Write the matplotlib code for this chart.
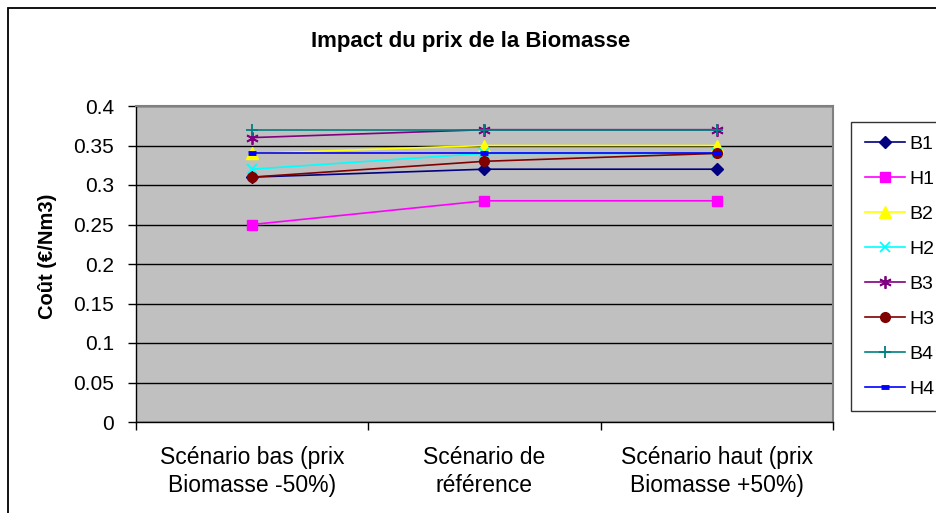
import matplotlib.pyplot as plt
from matplotlib.patches import Rectangle

plt.rcParams['font.family'] = ['Liberation Sans', 'DejaVu Sans']

categories = ["Scénario bas (prix\nBiomasse -50%)",
              "Scénario de\nréférence",
              "Scénario haut (prix\nBiomasse +50%)"]
series_names = ["B1", "H1", "B2", "H2", "B3", "H3", "B4", "H4"]
b1 = [0.31, 0.32, 0.32]
h1 = [0.25, 0.28, 0.28]
b2 = [0.34, 0.35, 0.35]
h2 = [0.32, 0.34, 0.34]
b3 = [0.36, 0.37, 0.37]
h3 = [0.31, 0.33, 0.34]
b4 = [0.37, 0.37, 0.37]
h4 = [0.34, 0.34, 0.34]
y_ticks = [0, 0.05, 0.1, 0.15, 0.2, 0.25, 0.3, 0.35, 0.4]

styles = {
    "B1": dict(color="#000080", marker="D", ms=6),
    "H1": dict(color="#FF00FF", marker="s", ms=7),
    "B2": dict(color="#FFFF00", marker="^", ms=8),
    "H2": dict(color="#00FFFF", marker="x", ms=7, mew=1.3),
    "B3": dict(color="#800080", marker=(6, 2, 0), ms=9, mew=1.3),
    "H3": dict(color="#800000", marker="o", ms=7),
    "B4": dict(color="#008080", marker="+", ms=9, mew=1.3),
    "H4": dict(color="#0000FF", marker="_", ms=6, mew=3.5),
}
values = [b1, h1, b2, h2, b3, h3, b4, h4]

fig = plt.figure(figsize=(9.37, 5.13), dpi=100)
# chart area border, cut by the right and bottom edges like the screenshot
fig.patches.append(Rectangle((8 / 937, -0.1), 1.2, 1.1 - 8 / 513, transform=fig.transFigure,
                             fill=False, edgecolor="black", lw=1.3, figure=fig))

ax = fig.add_axes([136 / 937, 1 - 422 / 513, (833 - 136) / 937, (422 - 106) / 513])
ax.set_facecolor("#C0C0C0")

x = list(range(len(categories)))
for name, vals in zip(series_names, values):
    ax.plot(x, vals, lw=1.2, label=name, **styles[name])

ax.set_ylim(0, 0.4)
ax.set_xlim(-0.5, 2.5)
ax.set_yticks(y_ticks)
ax.set_yticklabels([f"{t:g}" for t in y_ticks], fontsize=15)
ax.yaxis.grid(True, color="black", lw=1.0)
ax.set_axisbelow(True)

ax.set_xticks([-0.5, 0.5, 1.5, 2.5])
ax.set_xticklabels([])
ax.set_xticks(x, minor=True)
ax.set_xticklabels(categories, minor=True, fontsize=16.5, linespacing=1.28)
ax.tick_params(axis="x", which="minor", length=0, pad=17)
ax.tick_params(axis="both", which="major", direction="out", length=5.8, width=1, color="black")
ax.tick_params(axis="y", which="major", pad=10)

for side in ("top", "right"):
    ax.spines[side].set_color("#808080")
    ax.spines[side].set_linewidth(1.5)
for side in ("left", "bottom"):
    ax.spines[side].set_color("black")
    ax.spines[side].set_linewidth(1.0)

fig.text(471 / 937, 1 - 42 / 513, "Impact du prix de la Biomasse", ha="center", va="center",
         fontsize=16, fontweight="bold")
fig.text(48 / 937, 1 - 256 / 513, "Coût (€/Nm3)", ha="center", va="center",
         rotation=90, fontsize=14.5, fontweight="bold")

leg = ax.legend(loc="upper left", bbox_to_anchor=(851 / 937, 1 - 122 / 513),
                bbox_transform=fig.transFigure, frameon=True, fancybox=False,
                fontsize=14, handlelength=2.1, labelspacing=0.89, borderpad=0.7,
                handletextpad=0.2, borderaxespad=0)
leg.get_frame().set_edgecolor("black")
leg.get_frame().set_linewidth(1.0)

fig.savefig("out.png", dpi=100)
